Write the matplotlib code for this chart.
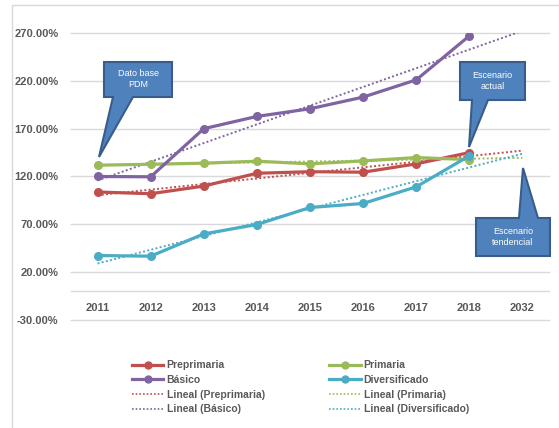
import numpy as np
import matplotlib.pyplot as plt
from matplotlib.patches import Polygon
from matplotlib.lines import Line2D

plt.rcParams['font.family'] = ['Liberation Sans', 'DejaVu Sans']

years = ["2011", "2012", "2013", "2014", "2015", "2016", "2017", "2018", "2032"]
preprimaria = [103.8, 102.0, 110.0, 123.4, 125.0, 124.5, 133.2, 145.0]
primaria = [131.8, 132.8, 133.9, 136.0, 133.2, 136.3, 139.8, 137.7]
basico = [120.0, 119.7, 170.0, 182.8, 190.8, 203.0, 221.0, 267.0]
diversificado = [37.4, 36.7, 60.0, 69.8, 87.6, 91.8, 109.2, 141.6]
y_ticks = [-30, 20, 70, 120, 170, 220, 270]

series = [
    ("Preprimaria", preprimaria, "#C0504D"),
    ("Primaria", primaria, "#9BBB59"),
    ("Básico", basico, "#8064A2"),
    ("Diversificado", diversificado, "#4BACC6"),
]

W, H = 559, 428
fig = plt.figure(figsize=(W / 100, H / 100), dpi=100)
ax = fig.add_axes([71 / W, 1 - 320 / H, 478 / W, 287 / H])

grid_c = "#D9D9D9"
txt_c = "#595959"

for yv in y_ticks + [0]:
    ax.axhline(yv, color=grid_c, lw=1, zorder=0, clip_on=False)

x = np.arange(8)
x_full = np.arange(9)
handles_main = []
handles_trend = []
for name, vals, col in series:
    ax.plot(x, vals, color=col, lw=2.3, marker="o", ms=5.5, zorder=3,
            solid_capstyle="round")
    # linear trendline, forecast one period forward
    k, b = np.polyfit(x, vals, 1)
    ax.plot(x_full, k * x_full + b, color=col, lw=1.4, ls=(0, (1, 1.2)), zorder=2)
    handles_main.append(Line2D([], [], color=col, lw=2.3, marker="o", ms=5))
    handles_trend.append(Line2D([], [], color=col, lw=1.2, ls=(0, (1, 1.2))))

ax.set_xlim(-0.5, 8.5)
ax.set_ylim(-30, 270)
for s in ax.spines.values():
    s.set_visible(False)
ax.set_xticks([])
ax.set_yticks(y_ticks)
ax.set_yticklabels([f"{v:.2f}%" for v in y_ticks], fontsize=8, color=txt_c,
                   fontweight="bold")
ax.tick_params(axis="y", length=0, pad=9)
for i, yr in enumerate(years):
    ax.text(i, -17.5, yr, ha="center", va="center", fontsize=8,
            color=txt_c, fontweight="bold")

# legend: two columns
order = [handles_main[0], handles_main[2], handles_trend[0], handles_trend[2],
         handles_main[1], handles_main[3], handles_trend[1], handles_trend[3]]
labels = ["Preprimaria", "Básico", "Lineal (Preprimaria)", "Lineal (Básico)",
          "Primaria", "Diversificado", "Lineal (Primaria)", "Lineal (Diversificado)"]
leg = fig.legend(order, labels, ncol=2, loc="upper left",
                 bbox_to_anchor=(128 / W, 1 - 356 / H), frameon=False,
                 fontsize=7.5, handlelength=3.0, handletextpad=0.3,
                 columnspacing=6.2, labelspacing=0.45, borderaxespad=0)
for t in leg.get_texts():
    t.set_color(txt_c)
    t.set_fontweight("bold")

# callouts (pixel outlines, y measured from top)
def callout(pts, text, tx, ty):
    poly = Polygon([(px / W, 1 - py / H) for px, py in pts], closed=True,
                   transform=fig.transFigure, facecolor="#4F81BD",
                   edgecolor="#385D8A", lw=1.5, zorder=10)
    fig.add_artist(poly)
    fig.text(tx / W, 1 - ty / H, text, ha="center", va="center", color="white",
             fontsize=6.5, family=["Liberation Sans Narrow", "Liberation Sans"],
             zorder=11, linespacing=1.3)

callout([(104, 62), (172, 62), (172, 97), (133, 97), (99, 157), (113, 97), (104, 97)],
        "Dato base\nPDM", 138, 79)
callout([(460, 62), (525, 62), (525, 100), (488, 100), (469, 147), (472, 100), (460, 100)],
        "Escenario\nactual", 492.5, 81)
callout([(476, 218), (519, 218), (523, 168), (538, 218), (550, 218), (550, 256), (476, 256)],
        "Escenario\ntendencial", 513, 237)

# chart border (left and top visible)
fig.add_artist(Line2D([12 / W, 12 / W, 1], [0, 1 - 5 / H, 1 - 5 / H],
                      transform=fig.transFigure, color=grid_c, lw=1))

fig.savefig("out.png", dpi=100)
